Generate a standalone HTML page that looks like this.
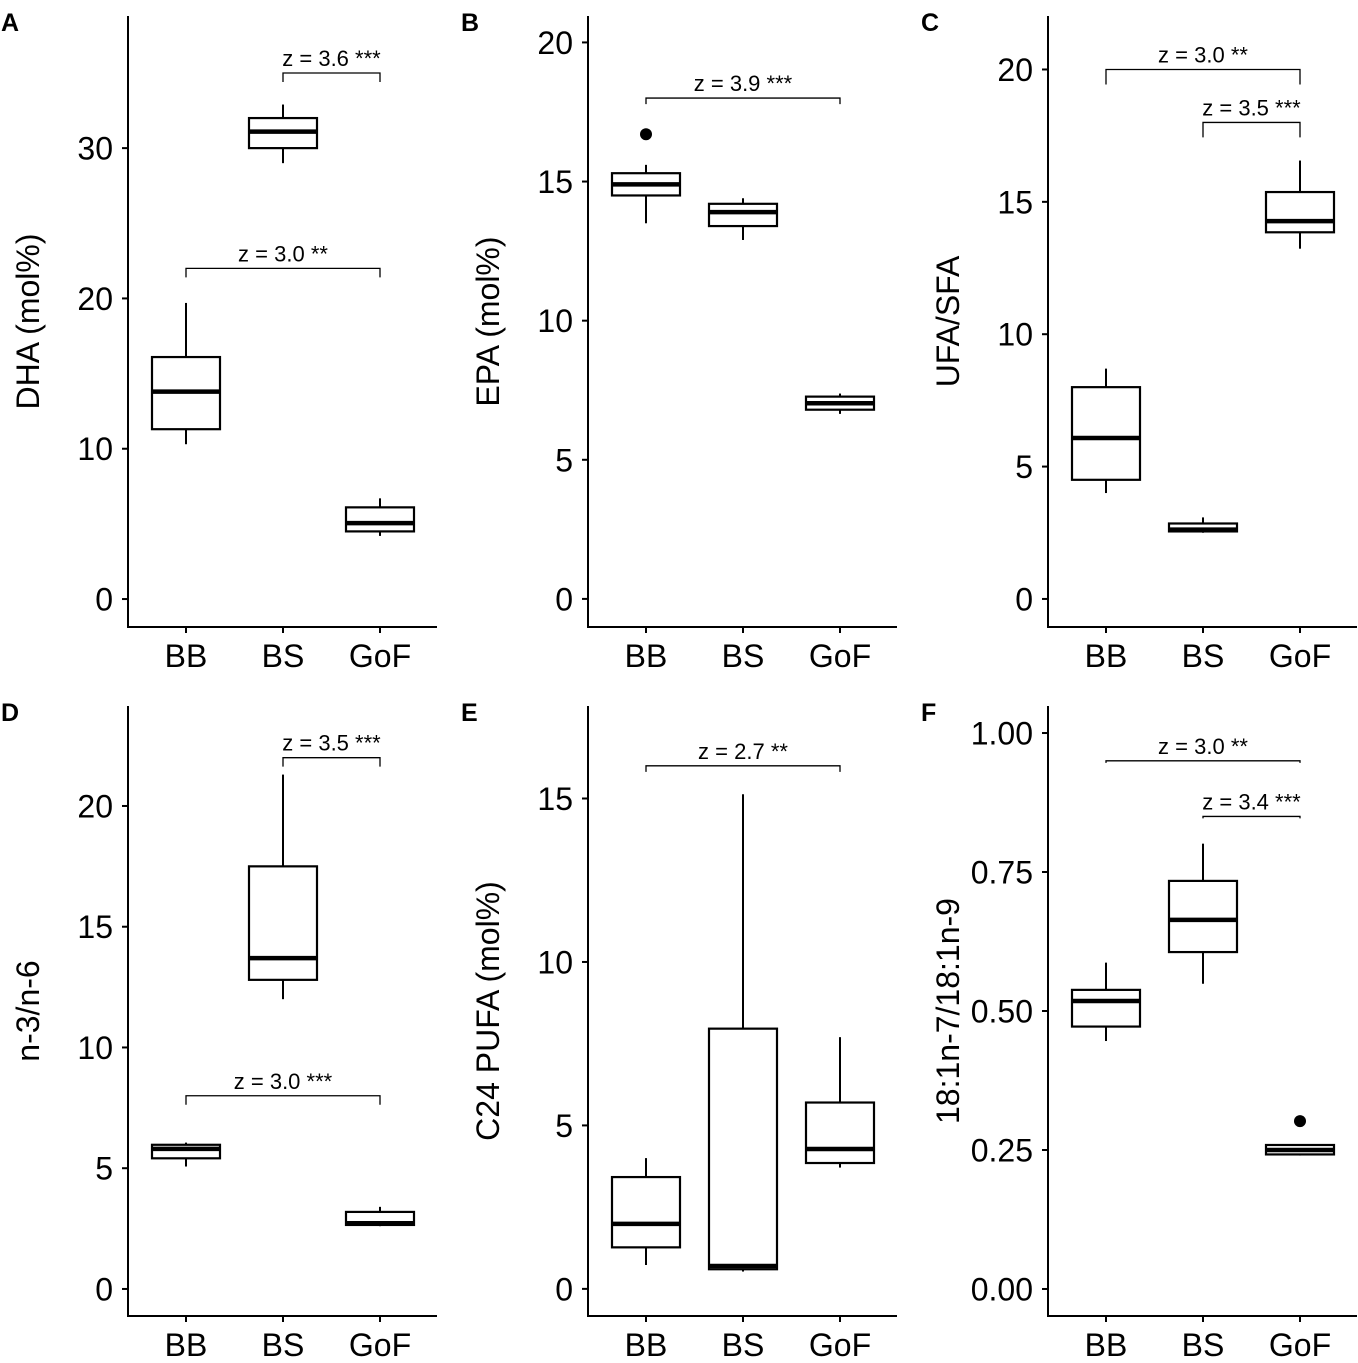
<!DOCTYPE html>
<html><head><meta charset="utf-8"><style>
html,body{margin:0;padding:0;background:#fff;}
svg{display:block;font-family:"Liberation Sans",Arial,sans-serif;}
</style></head><body>
<svg id="fig" width="1358" height="1363" viewBox="0 0 1358 1363"></svg>
<script>
const categories = ["BB","BS","GoF"];
// stats per category: [whiskerLow, q1, median, q3, whiskerHigh]
const dhaStats = [[10.3,11.3,13.8,16.1,19.7],[29.0,30.0,31.1,32.0,32.9],[4.2,4.5,5.05,6.1,6.7]];
const epaStats = [[13.5,14.5,14.9,15.3,15.6],[12.9,13.4,13.9,14.2,14.4],[6.65,6.8,7.03,7.27,7.38]];
const ufaStats = [[4.0,4.5,6.08,8.0,8.7],[2.5,2.55,2.62,2.85,3.08],[13.23,13.85,14.27,15.37,16.56]];
const n3n6Stats = [[5.07,5.41,5.8,5.97,6.06],[12.0,12.8,13.7,17.5,21.3],[2.6,2.65,2.72,3.19,3.4]];
const c24Stats = [[0.73,1.27,1.99,3.42,4.0],[0.53,0.6,0.7,7.96,15.13],[3.71,3.85,4.28,5.7,7.7]];
const ratioStats = [[0.446,0.472,0.518,0.538,0.587],[0.549,0.606,0.664,0.734,0.801],[0.24,0.242,0.25,0.259,0.259]];
// outliers: [categoryIndex, value]
const epaOutliers = [[0,16.7]];
const ratioOutliers = [[2,0.302]];
// tick labels
const dhaTicks = [0,10,20,30];
const epaTicks = [0,5,10,15,20];
const ufaTicks = [0,5,10,15,20];
const n3n6Ticks = [0,5,10,15,20];
const c24Ticks = [0,5,10,15];
const ratioTicks = [0,0.25,0.5,0.75,1.0];
// significance brackets: [fromIdx, toIdx, yValue, label]
const dhaSig = [[1,2,35.0,"z = 3.6 ***"],[0,2,22.0,"z = 3.0 **"]];
const epaSig = [[0,2,18.0,"z = 3.9 ***"]];
const ufaSig = [[0,2,20.0,"z = 3.0 **"],[1,2,18.0,"z = 3.5 ***"]];
const n3n6Sig = [[1,2,22.0,"z = 3.5 ***"],[0,2,8.0,"z = 3.0 ***"]];
const c24Sig = [[0,2,16.0,"z = 2.7 **"]];
const ratioSig = [[0,2,0.95,"z = 3.0 **"],[1,2,0.85,"z = 3.4 ***"]];

const NS="http://www.w3.org/2000/svg";
const svg=document.getElementById('fig');
function el(tag,attrs,parent){const e=document.createElementNS(NS,tag);for(const k in attrs)e.setAttribute(k,attrs[k]);(parent||svg).appendChild(e);return e;}

const panels=[
 {letter:"A",ax:128,top:16,bot:627,dom:[-1.86,38.79],title:"DHA (mol%)",stats:dhaStats,ticks:dhaTicks,sig:dhaSig,out:[],fmt:v=>String(v),tip:9,name:"dha"},
 {letter:"B",ax:588,top:16,bot:627,dom:[-1.01,20.95],title:"EPA (mol%)",stats:epaStats,ticks:epaTicks,sig:epaSig,out:epaOutliers,fmt:v=>String(v),tip:6,name:"epa"},
 {letter:"C",ax:1048,top:16,bot:627,dom:[-1.06,22.02],title:"UFA/SFA",stats:ufaStats,ticks:ufaTicks,sig:ufaSig,out:[],fmt:v=>String(v),tip:15,name:"ufa-sfa"},
 {letter:"D",ax:128,top:706,bot:1316,dom:[-1.12,24.14],title:"n-3/n-6",stats:n3n6Stats,ticks:n3n6Ticks,sig:n3n6Sig,out:[],fmt:v=>String(v),tip:9,name:"n3-n6"},
 {letter:"E",ax:588,top:706,bot:1316,dom:[-0.83,17.83],title:"C24 PUFA (mol%)",stats:c24Stats,ticks:c24Ticks,sig:c24Sig,out:[],fmt:v=>String(v),tip:6,name:"c24-pufa"},
 {letter:"F",ax:1048,top:706,bot:1316,dom:[-0.0486,1.0486],title:"18:1n-7/18:1n-9",stats:ratioStats,ticks:ratioTicks,sig:ratioSig,out:ratioOutliers,fmt:v=>v.toFixed(2),tip:2,name:"ratio-18-1"}
];

panels.forEach(p=>{
 const g=el('g',{});
 
 
 const y=v=>p.bot-(v-p.dom[0])/(p.dom[1]-p.dom[0])*(p.bot-p.top);
 const x=i=>p.ax+58+i*97;
 const lt=el('text',{x:p.ax-127,y:p.top+15,'font-size':'25','font-weight':'bold'},g);lt.textContent=p.letter;
 
 
 const ya=el('line',{x1:p.ax,y1:p.top,x2:p.ax,y2:p.bot+1,stroke:'#000','stroke-width':2},g);
 
 
 const xa=el('line',{x1:p.ax-1,y1:p.bot,x2:p.ax+309,y2:p.bot,stroke:'#000','stroke-width':2},g);
 
 
 p.ticks.forEach(t=>{
  el('line',{x1:p.ax-6,y1:y(t),x2:p.ax,y2:y(t),stroke:'#000','stroke-width':2},g);
  const tt=el('text',{x:p.ax-15,y:y(t)+11.5,'font-size':'32','text-anchor':'end',fill:'#000'},g);
  tt.textContent=p.fmt(t);
  
  
 });
 categories.forEach((c,i)=>{
  el('line',{x1:x(i),y1:p.bot,x2:x(i),y2:p.bot+6,stroke:'#000','stroke-width':2},g);
  const ct=el('text',{x:x(i),y:p.bot+40,'font-size':'32','text-anchor':'middle'},g);
  ct.textContent=c;
  
  
 });
 const cy=(p.top+p.bot)/2, tx=p.ax-89;
 const ttl=el('text',{x:tx,y:cy,'font-size':'32','text-anchor':'middle',transform:`rotate(-90 ${tx} ${cy})`},g);
 ttl.textContent=p.title;
 
 
 p.stats.forEach((s,i)=>{
  const bg=el('g',{},g);
  
  
  const cx=x(i),hw=34;
  el('line',{x1:cx,y1:y(s[0]),x2:cx,y2:y(s[1]),stroke:'#000','stroke-width':2},bg);
  el('line',{x1:cx,y1:y(s[3]),x2:cx,y2:y(s[4]),stroke:'#000','stroke-width':2},bg);
  el('rect',{x:cx-hw,y:y(s[3]),width:2*hw,height:Math.max(0.5,y(s[1])-y(s[3])),fill:'#fff',stroke:'#000','stroke-width':2.2},bg);
  el('line',{x1:cx-hw,y1:y(s[2]),x2:cx+hw,y2:y(s[2]),stroke:'#000','stroke-width':4.5},bg);
 });
 p.out.forEach(o=>{
  const c=el('circle',{cx:x(o[0]),cy:y(o[1]),r:6,fill:'#000'},g);
  
  
 });
 p.sig.forEach(s=>{
  const sg=el('g',{},g);
  
  
  const yy=y(s[2]),x1=x(s[0]),x2=x(s[1]);
  el('path',{d:`M${x1},${yy+p.tip}V${yy}H${x2}V${yy+p.tip}`,fill:'none',stroke:'#000','stroke-width':1.3},sg);
  const st=el('text',{x:(x1+x2)/2,y:yy-7,'font-size':'22','text-anchor':'middle'},sg);
  st.textContent=s[3];
 });
});
</script>
</body></html>
